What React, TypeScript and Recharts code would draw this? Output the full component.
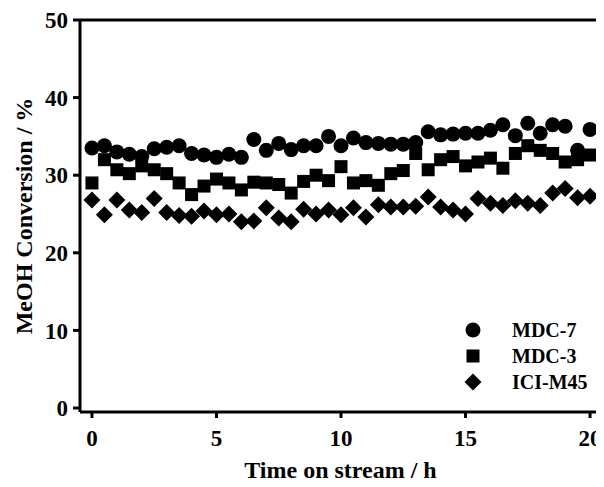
import React from 'react'
import { ReferenceLine, Scatter, ScatterChart, XAxis, YAxis } from 'recharts'

// time on stream, one sample every half hour
const TIME_H = [
  0, 0.5, 1, 1.5, 2, 2.5, 3, 3.5, 4, 4.5, 5, 5.5, 6, 6.5, 7, 7.5, 8, 8.5, 9, 9.5, 10,
  10.5, 11, 11.5, 12, 12.5, 13, 13.5, 14, 14.5, 15, 15.5, 16, 16.5, 17, 17.5, 18, 18.5, 19, 19.5, 20,
]

const MDC7 = [
  33.5, 33.8, 33.0, 32.7, 32.4, 33.4, 33.6, 33.8, 32.8, 32.6, 32.3, 32.7, 32.3, 34.6, 33.2, 34.1, 33.3,
  33.8, 33.8, 35.0, 33.8, 34.8, 34.2, 34.1, 34.0, 34.0, 34.2, 35.6, 35.2, 35.3, 35.4, 35.4, 35.8, 36.5,
  35.1, 36.7, 35.4, 36.5, 36.3, 33.2, 35.9,
]

const MDC3 = [
  29.0, 32.0, 30.7, 30.2, 31.2, 30.7, 30.2, 29.0, 27.5, 28.6, 29.5, 29.0, 28.1, 29.1, 29.0, 28.8, 27.7,
  29.2, 30.0, 29.3, 31.1, 29.0, 29.3, 28.7, 30.2, 30.6, 32.8, 30.7, 32.0, 32.4, 31.2, 31.7, 32.2, 30.9,
  32.8, 33.8, 33.2, 32.8, 31.7, 32.0, 32.6,
]

const ICI_M45 = [
  26.8, 24.9, 26.8, 25.5, 25.2, 27.0, 25.2, 24.8, 24.7, 25.4, 24.9, 25.0, 24.0, 24.1, 25.8, 24.5, 24.0,
  25.6, 25.0, 25.5, 24.9, 25.8, 24.6, 26.2, 25.9, 25.9, 26.0, 27.2, 25.9, 25.5, 25.0, 27.0, 26.4, 26.1,
  26.7, 26.4, 26.1, 27.7, 28.3, 27.1, 27.3,
]

const X_TICKS = [0, 5, 10, 15, 20]
const Y_TICKS = [0, 10, 20, 30, 40, 50]
const X_MAX = 20.44

const FONT = '"Liberation Serif", "Times New Roman", serif'
const tick = { fill: '#000', fontSize: 23, fontWeight: 700, fontFamily: FONT }
const titleStyle = { fill: '#000', fontSize: 24, fontWeight: 700, fontFamily: FONT }

const toPoints = (ys: number[]) => ys.map((y, i) => ({ x: TIME_H[i], y }))

// markers, sized to match the reference
const drawCircle = (cx: number, cy: number) => <circle cx={cx} cy={cy} r={7.5} fill="#000" />
const drawSquare = (cx: number, cy: number) => <rect x={cx - 6.5} y={cy - 6.5} width={13} height={13} fill="#000" />
const drawDiamond = (cx: number, cy: number) => (
  <polygon points={`${cx},${cy - 8.5} ${cx + 8.5},${cy} ${cx},${cy + 8.5} ${cx - 8.5},${cy}`} fill="#000" />
)

const SERIES = [
  { name: 'MDC-7', data: MDC7, draw: drawCircle },
  { name: 'MDC-3', data: MDC3, draw: drawSquare },
  { name: 'ICI-M45', data: ICI_M45, draw: drawDiamond },
]

function LegendBox() {
  return (
    <div style={{ position: 'absolute', left: 463, top: 317, fontFamily: FONT, fontWeight: 700, fontSize: 20 }}>
      {SERIES.map((s) => (
        <div key={s.name} style={{ display: 'flex', alignItems: 'center', height: 26 }}>
          <svg width={20} height={20} style={{ marginRight: 29 }}>
            {s.draw(10, 10)}
          </svg>
          <span>{s.name}</span>
        </div>
      ))}
    </div>
  )
}

export default function App() {
  // negative margin cancels the body's default 8px so chart coords == page coords
  return (
    <div style={{ position: 'relative', width: 604, height: 487, margin: -8 }}>
      <ScatterChart width={604} height={487} margin={{ top: 20, right: 3, left: 0, bottom: 0 }}>
        <XAxis
          type="number"
          dataKey="x"
          domain={[-0.48, X_MAX]}
          ticks={X_TICKS}
          allowDataOverflow
          height={75}
          tick={tick}
          tickSize={6}
          tickMargin={12}
          axisLine={{ stroke: '#000', strokeWidth: 3 }}
          tickLine={{ stroke: '#000', strokeWidth: 3 }}
          label={{ value: 'Time on stream / h', position: 'insideBottom', offset: 9, style: titleStyle }}
        />
        <YAxis
          type="number"
          dataKey="y"
          domain={[-0.515, 50]}
          ticks={Y_TICKS}
          allowDataOverflow
          width={80}
          tick={tick}
          tickSize={7}
          tickMargin={5}
          axisLine={{ stroke: '#000', strokeWidth: 3 }}
          tickLine={{ stroke: '#000', strokeWidth: 3 }}
          label={{
            value: 'MeOH Conversion / %',
            angle: -90,
            position: 'center',
            dx: -17,
            style: { ...titleStyle, textAnchor: 'middle' },
          }}
        />
        <ReferenceLine y={50} stroke="#000" strokeWidth={3} />
        <ReferenceLine x={X_MAX} stroke="#999" strokeWidth={1} />
        {SERIES.map((s) => (
          <Scatter
            key={s.name}
            name={s.name}
            data={toPoints(s.data)}
            isAnimationActive={false}
            shape={(p: any) => s.draw(p.cx, p.cy)}
          />
        ))}
      </ScatterChart>
      <LegendBox />
    </div>
  )
}
